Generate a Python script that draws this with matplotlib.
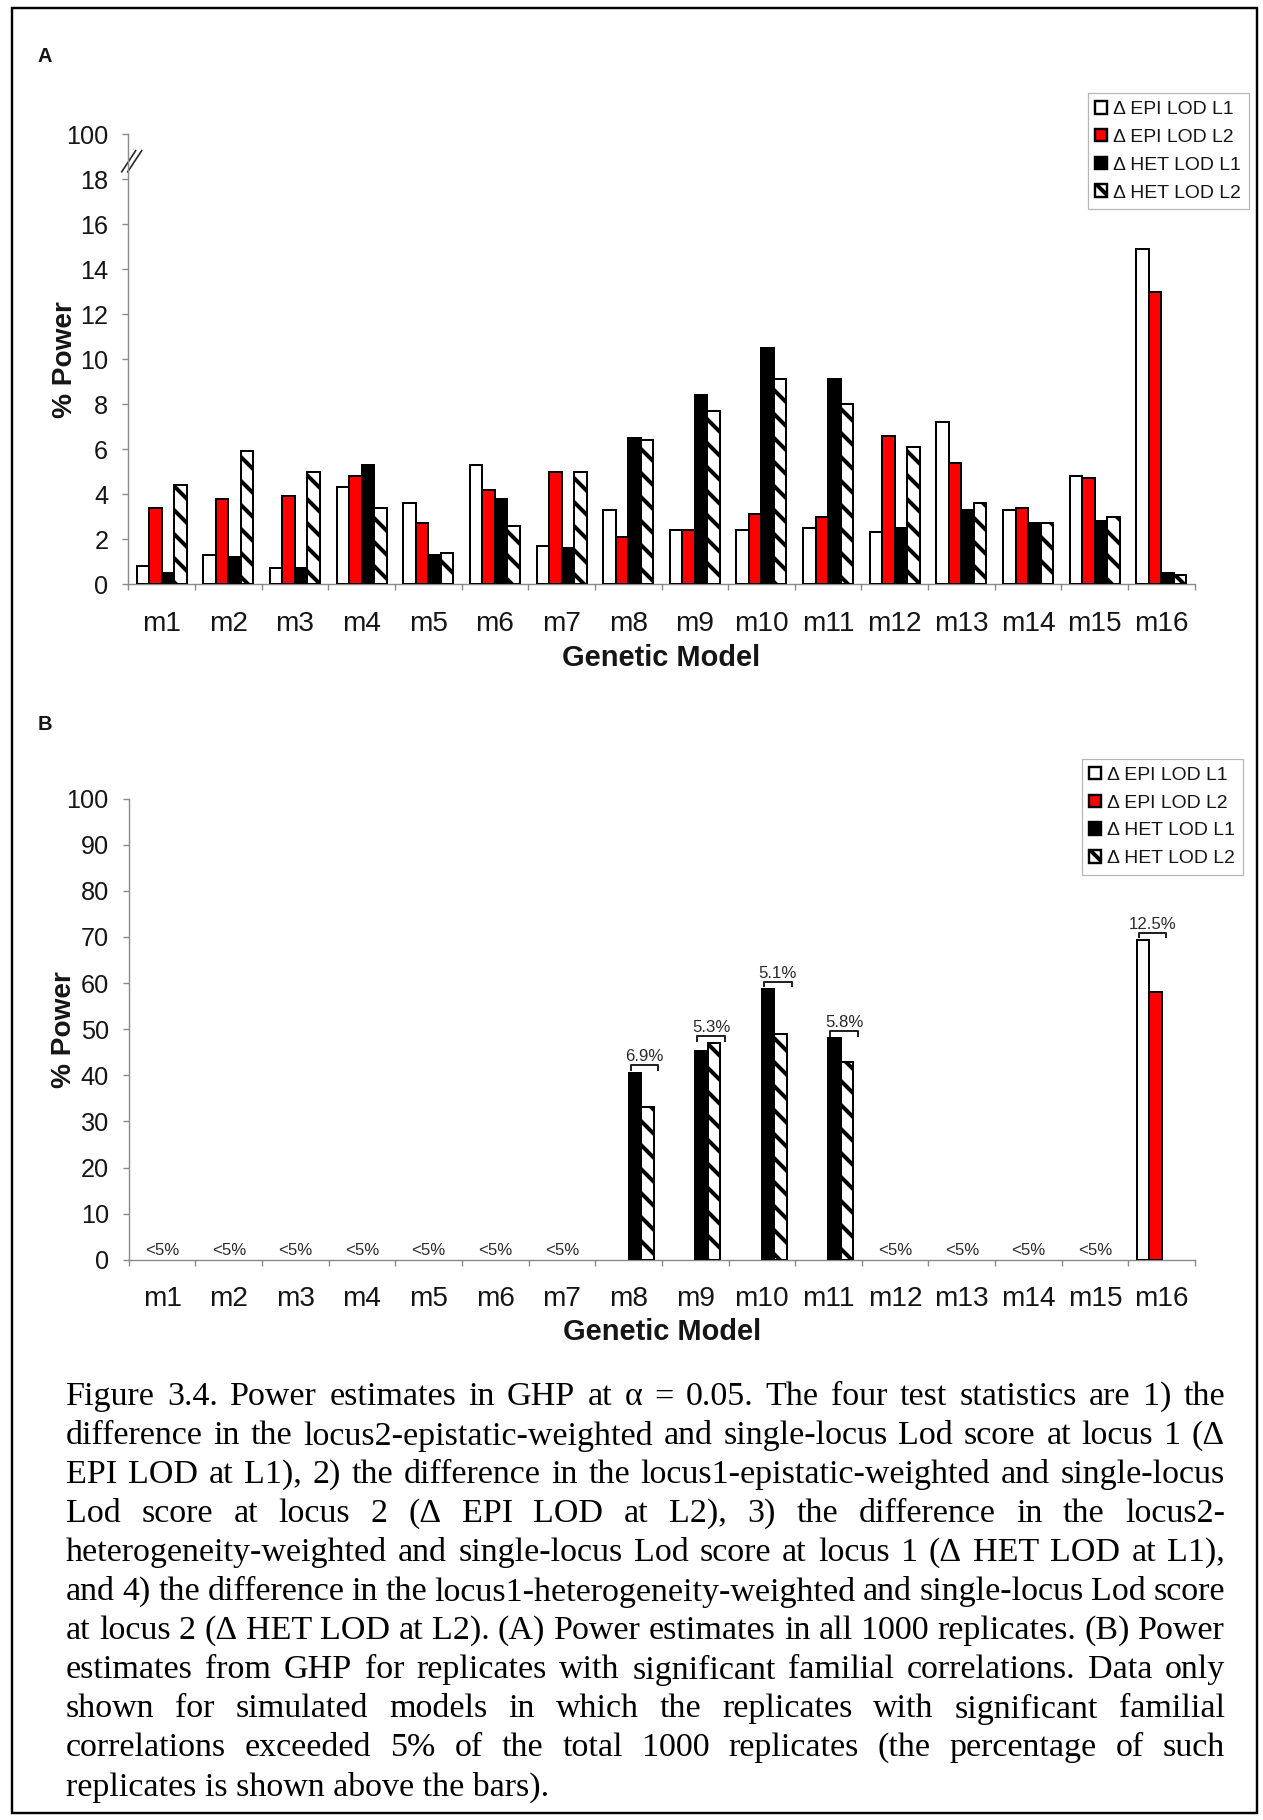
import matplotlib
matplotlib.use("Agg")
import matplotlib.pyplot as plt
import numpy as np
from matplotlib.patches import Patch, Rectangle
from matplotlib.lines import Line2D

plt.rcParams["font.family"] = ["Liberation Sans", "DejaVu Sans"]
plt.rcParams["hatch.linewidth"] = 2.0

# ---------------------------------------------------------------- data
models = ["m1", "m2", "m3", "m4", "m5", "m6", "m7", "m8",
          "m9", "m10", "m11", "m12", "m13", "m14", "m15", "m16"]
series = ["Δ EPI LOD L1", "Δ EPI LOD L2", "Δ HET LOD L1", "Δ HET LOD L2"]

# (A) power (%) over all 1000 replicates
epi_l1_all = [0.8, 1.3, 0.7, 4.3, 3.6, 5.3, 1.7, 3.3, 2.4, 2.4, 2.5, 2.3, 7.2, 3.3, 4.8, 14.9]
epi_l2_all = [3.4, 3.8, 3.9, 4.8, 2.7, 4.2, 5.0, 2.1, 2.4, 3.1, 3.0, 6.6, 5.4, 3.4, 4.7, 13.0]
het_l1_all = [0.5, 1.2, 0.7, 5.3, 1.3, 3.8, 1.6, 6.5, 8.4, 10.5, 9.1, 2.5, 3.3, 2.7, 2.8, 0.5]
het_l2_all = [4.4, 5.9, 5.0, 3.4, 1.4, 2.6, 5.0, 6.4, 7.7, 9.1, 8.0, 6.1, 3.6, 2.7, 3.0, 0.4]

# (B) power (%) in replicates with significant familial correlations
nan = np.nan
epi_l1_sig = [nan, nan, nan, nan, nan, nan, nan, nan, nan, nan, nan, nan, nan, nan, nan, 69.3]
epi_l2_sig = [nan, nan, nan, nan, nan, nan, nan, nan, nan, nan, nan, nan, nan, nan, nan, 58.0]
het_l1_sig = [nan, nan, nan, nan, nan, nan, nan, 40.6, 45.3, 58.7, 48.0, nan, nan, nan, nan, nan]
het_l2_sig = [nan, nan, nan, nan, nan, nan, nan, 33.2, 46.9, 49.0, 42.9, nan, nan, nan, nan, nan]
# share of replicates (%) with significant familial correlations (None: below 5%)
sig_share = [None, None, None, None, None, None, None, 6.9, 5.3, 5.1, 5.8,
             None, None, None, None, 12.5]

ticks_a = [0, 2, 4, 6, 8, 10, 12, 14, 16, 18, 20]
ticklabels_a = ["0", "2", "4", "6", "8", "10", "12", "14", "16", "18", "100"]
ticks_b = [0, 10, 20, 30, 40, 50, 60, 70, 80, 90, 100]

caption_lines = [
    "Figure 3.4. Power estimates in GHP at α = 0.05. The four test statistics are 1) the",
    "difference in the locus2-epistatic-weighted and single-locus Lod score at locus 1 (Δ",
    "EPI LOD at L1), 2) the difference in the locus1-epistatic-weighted and single-locus",
    "Lod score at locus 2 (Δ EPI LOD at L2), 3) the difference in the locus2-",
    "heterogeneity-weighted and single-locus Lod score at locus 1 (Δ HET LOD at L1),",
    "and 4) the difference in the locus1-heterogeneity-weighted and single-locus Lod score",
    "at locus 2 (Δ HET LOD at L2). (A) Power estimates in all 1000 replicates. (B) Power",
    "estimates from GHP for replicates with significant familial correlations. Data only",
    "shown for simulated models in which the replicates with significant familial",
    "correlations exceeded 5% of the total 1000 replicates (the percentage of such",
    "replicates is shown above the bars).",
]

# ---------------------------------------------------------------- figure
W, H, DPI = 1263, 1820, 144
fig = plt.figure(figsize=(W / DPI, H / DPI), dpi=DPI, facecolor="white")

def fx(px):
    return px / W

def fy(py):
    return 1 - py / H

GRAY = "#8a8a8a"
TXT = "#151515"
bar_w = 0.1875
offsets = (np.arange(4) - 1.5) * bar_w
bar_styles = [
    dict(facecolor="white"),
    dict(facecolor="#ff0000"),
    dict(facecolor="black"),
    dict(facecolor="white", hatch="\\\\"),
]


def draw_bars(ax, columns):
    x = np.arange(len(models))
    for k, vals in enumerate(columns):
        vals = np.asarray(vals, dtype=float)
        ok = ~np.isnan(vals)
        ax.bar(x[ok] + offsets[k], vals[ok], width=bar_w, edgecolor="black",
               linewidth=1.0, label=series[k], zorder=3, **bar_styles[k])


def style_axes(ax, ylim, yticks, yticklabels, xlab_y, ylab_x):
    ax.set_xlim(-0.5, len(models) - 0.5)
    ax.set_ylim(*ylim)
    ax.set_facecolor("none")
    for s in ("top", "right"):
        ax.spines[s].set_visible(False)
    for s in ("left", "bottom"):
        ax.spines[s].set_color(GRAY)
        ax.spines[s].set_linewidth(0.7)
    ax.set_xticks(np.arange(len(models)))
    ax.set_xticklabels(models)
    ax.set_xticks(np.arange(-0.5, len(models), 1.0), minor=True)
    ax.tick_params(axis="x", which="major", length=0, pad=13.3,
                   labelsize=14, labelcolor=TXT)
    ax.tick_params(axis="x", which="minor", length=3, width=0.7,
                   color=GRAY, direction="out")
    ax.set_yticks(yticks)
    ax.set_yticklabels(yticklabels)
    ax.tick_params(axis="y", length=3, width=0.7, color=GRAY, pad=7.0,
                   labelsize=12.6, labelcolor=TXT)
    ax.set_xlabel("Genetic Model", fontsize=14.5, fontweight="bold", color=TXT)
    ax.xaxis.set_label_coords(0.5, xlab_y)
    ax.xaxis.label.set_va("center")
    ax.set_ylabel("% Power", fontsize=14, fontweight="bold", color=TXT)
    ax.yaxis.set_label_coords(ylab_x, 0.5)
    ax.yaxis.label.set_va("center")


def add_legend(ax, left_px, top_px):
    handles = [Patch(edgecolor="black", linewidth=1.2, **st) for st in bar_styles]
    leg = ax.legend(handles, series, loc="upper left",
                    bbox_to_anchor=(fx(left_px), fy(top_px)),
                    bbox_transform=fig.transFigure, fontsize=9.7,
                    frameon=True, fancybox=False, framealpha=1,
                    edgecolor="#b5b5b5", handlelength=0.62, handleheight=0.62,
                    handletextpad=0.3, labelspacing=0.55, borderpad=0.4,
                    borderaxespad=0)
    leg.get_frame().set_linewidth(0.6)
    for t in leg.get_texts():
        t.set_color(TXT)


# ---- panel A
axA = fig.add_axes([fx(128.3), fy(584), fx(1066.4), 449.7 / H])
draw_bars(axA, [epi_l1_all, epi_l2_all, het_l1_all, het_l2_all])
style_axes(axA, (0, 20), ticks_a, ticklabels_a, -0.165, -0.0594)
add_legend(axA, 1087.7, 93.3)

# axis-break marks between 18 and 100
brk = axA.get_yaxis_transform()
for dx in (0.0, 0.0056):
    axA.add_line(Line2D([-0.0062 + dx, 0.0069 + dx], [18.33, 19.27],
                        transform=brk, color="#222222", lw=0.8, clip_on=False))

# ---- panel B
axB = fig.add_axes([fx(128.8), fy(1259.7), fx(1066.2), 461.0 / H])
cols_b = [epi_l1_sig, epi_l2_sig, het_l1_sig, het_l2_sig]
draw_bars(axB, cols_b)
style_axes(axB, (0, 100), ticks_b, [str(t) for t in ticks_b], -0.1565, -0.0608)
add_legend(axB, 1081.7, 759.0)

for i, share in enumerate(sig_share):
    if share is None:
        axB.annotate("<5%", xy=(i, 0), xytext=(0, 2.5), textcoords="offset points",
                     ha="center", va="baseline", fontsize=8.4, color="#2a2a2a")
        continue
    vals = [c[i] for c in cols_b]
    shown = [k for k, v in enumerate(vals) if not np.isnan(v)]
    x0 = i + offsets[shown[0]] - bar_w / 2 + 0.03
    x1 = i + offsets[shown[-1]] + bar_w / 2 + 0.07
    yb = max(vals[k] for k in shown) + 1.6
    axB.plot([x0, x0, x1, x1], [yb - 1.0, yb, yb, yb - 1.0], color="#222222",
             lw=1.0, zorder=4, clip_on=False)
    axB.annotate(f"{share}%", xy=((x0 + x1) / 2, yb), xytext=(0, 2),
                 textcoords="offset points", ha="center", va="baseline",
                 fontsize=8.4, color="#2a2a2a")

# ---- panel letters
fig.text(fx(45), fy(57), "A", fontsize=10, fontweight="bold", ha="center",
         va="center", color=TXT)
fig.text(fx(45), fy(725), "B", fontsize=10, fontweight="bold", ha="center",
         va="center", color=TXT)

# ---- justified caption
cap_left, cap_right, cap_top, cap_step = 66.0, 1225.0, 1397.0, 39.0
renderer = fig.canvas.get_renderer()
cap_kw = dict(fontsize=17.0, family=["Liberation Serif", "DejaVu Serif"],
              color="black", va="center", ha="left")
for n, line in enumerate(caption_lines):
    y = fy(cap_top + n * cap_step)
    if n == len(caption_lines) - 1:
        fig.text(fx(cap_left), y, line, **cap_kw)
        continue
    words = line.split(" ")
    texts = [fig.text(0, y, w, **cap_kw) for w in words]
    widths = [t.get_window_extent(renderer).width for t in texts]
    gap = (cap_right - cap_left - sum(widths)) / (len(words) - 1)
    x = cap_left
    for t, w in zip(texts, widths):
        t.set_x(fx(x))
        x += w + gap

# ---- outer frame
fig.add_artist(Rectangle((fx(11.5), fy(1813)), fx(1257 - 11.5), (1813 - 8) / H,
                         transform=fig.transFigure, fill=False,
                         edgecolor="black", linewidth=1.2))

fig.savefig("out.png", dpi=DPI, facecolor="white")
